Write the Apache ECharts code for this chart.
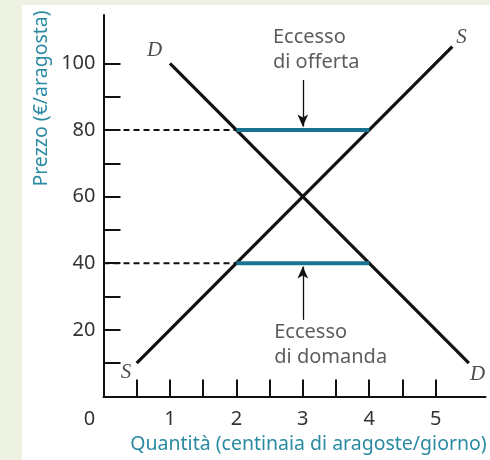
<!DOCTYPE html>
<html>
<head>
<meta charset="utf-8">
<script src="https://cdn.jsdelivr.net/npm/echarts@6/dist/echarts.min.js"></script>
<style>
  html, body { margin: 0; padding: 0; background: #eef2e2; }
  #chart { width: 490px; height: 460px; }
</style>
</head>
<body>
<div id="chart"></div>
<script>
// curve end points (quantity, price)
var demand = [[1, 100], [5.5, 10]];
var supply = [[0.5, 10], [5.25, 105]];
var surplus = [[2, 80], [4, 80]];     // eccesso di offerta
var shortage = [[2, 40], [4, 40]];    // eccesso di domanda
var guide80 = [[0, 80], [2, 80]];
var guide40 = [[0, 40], [2, 40]];
var arrowDown = [[3, 95], [3, 81]];
var arrowUp = [[3, 23], [3, 39]];

var yTicks = [10, 20, 30, 40, 50, 60, 70, 80, 90, 100];
var yLabels = [20, 40, 60, 80, 100];
var xTicks = [0.5, 1, 1.5, 2, 2.5, 3, 3.5, 4, 4.5, 5];
var xLabels = [0, 1, 2, 3, 4, 5];

var notes = [
    { value: [2.55, 104.1], text: 'Eccesso\ndi offerta' },
    { value: [2.57, 15.6], text: 'Eccesso\ndi domanda' }
];
var curveNames = [
    { value: [0.77, 104], text: 'D' },
    { value: [5.39, 107.8], text: 'S' },
    { value: [0.34, 7.1], text: 'S' },
    { value: [5.63, 6.5], text: 'D' }
];

var teal = '#2a8aa2';
var lineTeal = '#17738f';
var txt = '#333';
var font = 'Noto Sans';

var myChart = echarts.init(document.getElementById('chart'));

function seg(data, color, width, type) {
    return {
        type: 'line', data: data, symbol: 'none', silent: true,
        lineStyle: { color: color, width: width, type: type || 'solid' },
        z: 3
    };
}

function toCoord(p) { return { coord: p }; }

myChart.setOption({
    backgroundColor: '#eef2e2',
    animation: false,
    textStyle: { fontFamily: font },
    graphic: [
        { type: 'rect', shape: { x: 22, y: 5, width: 468, height: 455 }, style: { fill: '#fff' }, z: -10 },
        {
            type: 'text', x: 41, y: 98.5, rotation: Math.PI / 2,
            style: {
                text: 'Prezzo (€/aragosta)', fill: teal, font: '19.5px "Noto Sans"',
                align: 'center', verticalAlign: 'middle'
            }
        }
    ],
    grid: { left: 103.5, top: 15, width: 382, height: 381.5 },
    xAxis: {
        type: 'value', min: 0, max: 5.75,
        name: 'Quantità (centinaia di aragoste/giorno)',
        nameLocation: 'middle', nameGap: 31,
        nameTextStyle: { color: teal, fontSize: 19.5, fontFamily: font, padding: [0, 0, 0, 28] },
        axisLine: { lineStyle: { color: '#111', width: 2 } },
        axisTick: { inside: true, length: 17, customValues: xTicks, lineStyle: { color: '#111', width: 2 } },
        axisLabel: {
            customValues: xLabels, color: txt, fontSize: 20, margin: 13,
            formatter: function (v) { return v === 0 ? '{z|0}' : String(v); },
            rich: { z: { fontSize: 20, color: txt, padding: [0, 28, 0, 0] } }
        },
        splitLine: { show: false }
    },
    yAxis: {
        type: 'value', min: 0, max: 114.5,
        axisLine: { lineStyle: { color: '#111', width: 2 } },
        axisTick: { inside: true, length: 17, customValues: yTicks, lineStyle: { color: '#111', width: 2 } },
        axisLabel: { customValues: yLabels, color: txt, fontSize: 20, margin: 8 },
        splitLine: { show: false }
    },
    series: [
        seg(guide80, '#111', 2, [6, 4]),
        seg(guide40, '#111', 2, [6, 4]),
        seg(demand, '#111', 3.2),
        seg(supply, '#111', 3.2),
        seg(surplus, lineTeal, 4),
        seg(shortage, lineTeal, 4),
        {
            type: 'line', data: [], silent: true,
            markLine: {
                silent: true, animation: false,
                symbol: ['none', 'arrow'], symbolSize: [8, 12],
                label: { show: false },
                lineStyle: { color: '#111', width: 1.3, type: 'solid' },
                data: [arrowDown.map(toCoord), arrowUp.map(toCoord)]
            },
            z: 4
        },
        {
            type: 'scatter', symbolSize: 0, silent: true,
            data: notes.map(function (n) { return { value: n.value, name: n.text }; }),
            label: {
                show: true, position: 'inside', align: 'left', verticalAlign: 'middle',
                formatter: function (p) { return p.name; },
                color: txt, fontSize: 20, lineHeight: 25, fontFamily: font
            }
        },
        {
            type: 'scatter', symbolSize: 0, silent: true,
            data: curveNames.map(function (n) { return { value: n.value, name: n.text }; }),
            label: {
                show: true, position: 'inside', align: 'center', verticalAlign: 'middle',
                formatter: function (p) { return p.name; },
                color: '#222', fontSize: 21, fontStyle: 'italic', fontFamily: 'Liberation Serif'
            }
        }
    ]
});
</script>
</body>
</html>
